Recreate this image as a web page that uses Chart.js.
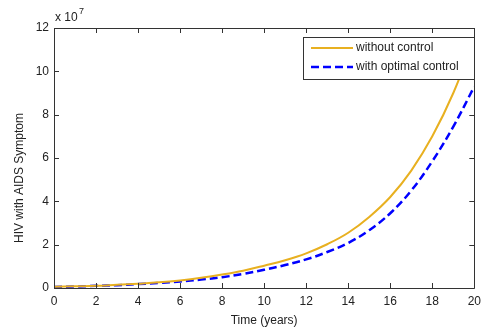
<!DOCTYPE html>
<html>
<head>
<meta charset="utf-8">
<script src="https://cdn.jsdelivr.net/npm/chart.js@4.4.0/dist/chart.umd.min.js"></script>
<style>
  body { margin: 0; background: #fff; }
  #wrap { width: 487px; height: 328px; }
</style>
</head>
<body>
<div id="wrap"><canvas id="hivChart" width="487" height="328"></canvas></div>
<script>
// time in years, values in units of 10^7
const years = [0, 1, 2, 3, 4, 5, 6, 7, 8, 9, 10, 11, 12, 13, 14, 15, 16, 17, 18, 19, 20];
const withoutControl = [0.06, 0.08, 0.1, 0.15, 0.2, 0.26, 0.35, 0.47, 0.62, 0.8, 1.03, 1.28, 1.6, 2.02, 2.55, 3.28, 4.2, 5.42, 7.0, 9.0, 11.5];
const optimalControl = [0.05, 0.07, 0.1, 0.13, 0.18, 0.23, 0.3, 0.39, 0.5, 0.65, 0.84, 1.06, 1.32, 1.66, 2.08, 2.67, 3.45, 4.5, 5.85, 7.45, 9.3];
const xTicks = [0, 2, 4, 6, 8, 10, 12, 14, 16, 18, 20];
const yTicks = [0, 2, 4, 6, 8, 10, 12];
const seriesNames = ['without control', 'with optimal control'];
const yTitle = 'HIV with AIDS Symptom';

const axisColor = '#333333';
const font = 'Liberation Sans, Arial, sans-serif';

// matlab style box, inward ticks, exponent, y title and legend
const matlabBox = {
  id: 'matlabBox',
  afterDraw(chart) {
    const ctx = chart.ctx;
    const a = chart.chartArea;
    const xs = chart.scales.x, ys = chart.scales.y;
    ctx.save();
    ctx.strokeStyle = axisColor;
    ctx.lineWidth = 1;
    ctx.beginPath();
    ctx.rect(Math.round(a.left) + 0.5, Math.round(a.top) + 0.5, Math.round(a.right - a.left), Math.round(a.bottom - a.top));
    ctx.stroke();

    const len = 5;
    ctx.beginPath();
    xTicks.forEach(v => {
      const px = Math.round(xs.getPixelForValue(v)) + 0.5;
      ctx.moveTo(px, a.bottom); ctx.lineTo(px, a.bottom - len);
      ctx.moveTo(px, a.top); ctx.lineTo(px, a.top + len);
    });
    yTicks.forEach(v => {
      const py = Math.round(ys.getPixelForValue(v)) + 0.5;
      ctx.moveTo(a.left, py); ctx.lineTo(a.left + len, py);
      ctx.moveTo(a.right, py); ctx.lineTo(a.right - len, py);
    });
    ctx.stroke();

    // exponent label
    ctx.fillStyle = '#222';
    ctx.textBaseline = 'alphabetic';
    ctx.textAlign = 'left';
    ctx.font = '12px ' + font;
    ctx.fillText('x 10', a.left + 1, a.top - 7);
    ctx.font = '9px ' + font;
    ctx.fillText('7', a.left + 25, a.top - 14);

    // y title, sits a bit below the middle like the original
    ctx.save();
    ctx.translate(20, 178);
    ctx.rotate(-Math.PI / 2);
    ctx.font = '12px ' + font;
    ctx.textAlign = 'center';
    ctx.textBaseline = 'middle';
    ctx.fillText(yTitle, 0, 0);
    ctx.restore();

    // legend box
    const lx = 303, ly = 37, lw = 171, lh = 42;
    ctx.fillStyle = '#fff';
    ctx.fillRect(lx, ly, lw, lh);
    ctx.strokeStyle = axisColor;
    ctx.strokeRect(lx + 0.5, ly + 0.5, lw, lh);
    ctx.font = '12px ' + font;
    ctx.textBaseline = 'middle';
    chart.data.datasets.forEach((ds, i) => {
      const y = ly + 11 + i * 19;
      ctx.strokeStyle = ds.borderColor;
      ctx.lineWidth = ds.borderWidth;
      ctx.setLineDash(ds.borderDash || []);
      ctx.beginPath();
      ctx.moveTo(lx + 8, y);
      ctx.lineTo(lx + 50, y);
      ctx.stroke();
      ctx.setLineDash([]);
      ctx.fillStyle = '#222';
      ctx.fillText(ds.label, lx + 53, y);
    });
    ctx.restore();
  }
};

const config = {
  type: 'line',
  data: {
    datasets: [
      {
        label: seriesNames[0],
        data: years.map((t, i) => ({ x: t, y: withoutControl[i] })),
        borderColor: '#E8B020',
        borderWidth: 2,
        pointRadius: 0,
        tension: 0.4,
        fill: false
      },
      {
        label: seriesNames[1],
        data: years.map((t, i) => ({ x: t, y: optimalControl[i] })),
        borderColor: '#0000FF',
        borderWidth: 2.5,
        borderDash: [8, 4],
        pointRadius: 0,
        tension: 0.4,
        fill: false
      }
    ]
  },
  options: {
    responsive: false,
    animation: false,
    layout: {
      padding: { top: 28, right: 9, bottom: 0, left: 13 }
    },
    scales: {
      x: {
        type: 'linear',
        min: 0,
        max: 20,
        afterBuildTicks: s => { s.ticks = xTicks.map(v => ({ value: v })); },
        afterFit: s => { s.height = 40; },
        grid: { display: false, drawTicks: false },
        border: { display: false },
        ticks: { color: '#222', font: { family: font, size: 12 }, padding: 6, maxRotation: 0 },
        title: { display: true, text: 'Time (years)', color: '#222', font: { family: font, size: 12 }, padding: { top: 0, bottom: 0 } }
      },
      y: {
        min: 0,
        max: 12,
        afterBuildTicks: s => { s.ticks = yTicks.map(v => ({ value: v })); },
        afterFit: s => { s.width = 41; },
        grid: { display: false, drawTicks: false },
        border: { display: false },
        ticks: { color: '#222', font: { family: font, size: 12 }, padding: 5 },
        title: { display: false }
      }
    },
    plugins: {
      legend: { display: false },
      tooltip: { enabled: false }
    }
  },
  plugins: [matlabBox]
};

const hivChart = new Chart(document.getElementById('hivChart'), config);
</script>
</body>
</html>
